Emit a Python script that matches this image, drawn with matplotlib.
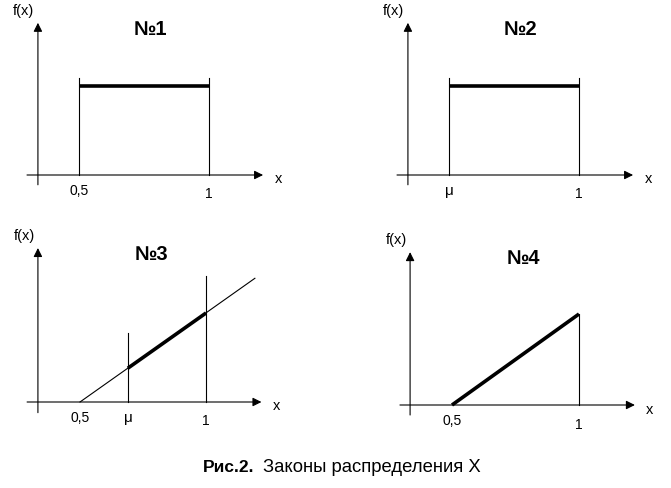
import matplotlib
matplotlib.use("Agg")
import matplotlib.pyplot as plt

W, H = 671, 488

# schematic values (x in units of X, y in units of f(x))
titles = ["№1", "№2", "№3", "№4"]
tick_pos = [[0.5, 1.0], [0.5, 1.0], [0.5, 0.69, 1.0], [0.5, 1.0]]
tick_lbl = [["0,5", "1"], ["μ", "1"], ["0,5", "μ", "1"], ["0,5", "1"]]

# density segments (thick) per panel: x, y
dens_x = [[0.5, 1.0], [0.5, 1.0], [0.69, 1.0], [0.5, 1.0]]
dens_y = [[1.0, 1.0], [1.0, 1.0], [0.38, 1.0], [0.0, 1.0]]

# thin vertical guides: x, top
guide_x = [[0.5, 1.0], [0.5, 1.0], [0.69, 1.0], [1.0]]
guide_top = [[1.09, 1.09], [1.09, 1.09], [0.78, 1.42], [1.0]]

# thin helper line for panel 3: f(x) = 2(x - 0.5)
helper_x = [0.5, 1.194]
helper_y = [0.0, 1.39]

# axes extents per panel
yaxis_x = [0.342, 0.342, 0.333, 0.335]
yaxis_lo = [-0.11, -0.11, -0.12, -0.11]
yaxis_hi = [1.71, 1.71, 1.73, 1.68]
xaxis_lo = [0.30, 0.30, 0.29, 0.295]
xaxis_hi = [1.208, 1.208, 1.22, 1.22]

# pixel anchor of (0.5, 0) and scale (px per unit) per panel
anchor = [(79, 175), (449, 175), (80, 402), (452, 405)]
scale = [(260, 89), (260, 89), (252, 89), (254, 91)]

fig = plt.figure(figsize=(W / 100, H / 100), dpi=100)
fig.patch.set_facecolor("white")
plt.rcParams["font.family"] = ["Liberation Sans", "DejaVu Sans"]

for i in range(4):
    px, py = anchor[i]
    sx, sy = scale[i]
    ax = fig.add_axes([0, 0, 1, 1], facecolor="none")
    ax.set_xlim(0.5 - px / sx, 0.5 + (W - px) / sx)
    ax.set_ylim(-(H - py) / sy, py / sy)
    ax.axis("off")

    arrow = dict(arrowstyle="-|>", color="black", lw=0.8, mutation_scale=13,
                 shrinkA=0, shrinkB=0)
    ax.annotate("", xy=(xaxis_hi[i], 0), xytext=(xaxis_lo[i], 0), arrowprops=arrow)
    ax.annotate("", xy=(yaxis_x[i], yaxis_hi[i]), xytext=(yaxis_x[i], yaxis_lo[i]),
                arrowprops=arrow)

    for gx, gt in zip(guide_x[i], guide_top[i]):
        ax.plot([gx, gx], [0, gt], color="black", lw=0.8)

    if i == 2:
        ax.plot(helper_x, helper_y, color="black", lw=0.8)

    ax.plot(dens_x[i], dens_y[i], color="black", lw=2.6, solid_capstyle="butt")

    for tx, tl in zip(tick_pos[i], tick_lbl[i]):
        if tl == "μ":
            ax.text(tx, -0.1, tl, ha="center", va="top", fontsize=11)
        else:
            dy = -0.14 if tl == "1" else -0.1
            ax.text(tx, dy, tl, ha="center", va="top", fontsize=10)

    ax.text(xaxis_hi[i] + 0.045, -0.05, "x", ha="left", va="center", fontsize=10.5)
    ax.text(yaxis_x[i] - 0.055, yaxis_hi[i] + 0.13, "f(x)", ha="center", va="center",
            fontsize=10.5)
    ax.text(0.5 + 71 / sx, yaxis_hi[i] - 0.07, titles[i], ha="center", va="center",
            fontsize=14.5, fontweight="bold")

cy = 1 - 467 / H
fig.text(203 / W, cy, "Рис.2.", ha="left", va="center",
         fontsize=12.5, fontweight="bold")
fig.text(263 / W, cy, "Законы распределения Х", ha="left", va="center",
         fontsize=13.3)

fig.savefig("out.png", dpi=100, facecolor="white")
